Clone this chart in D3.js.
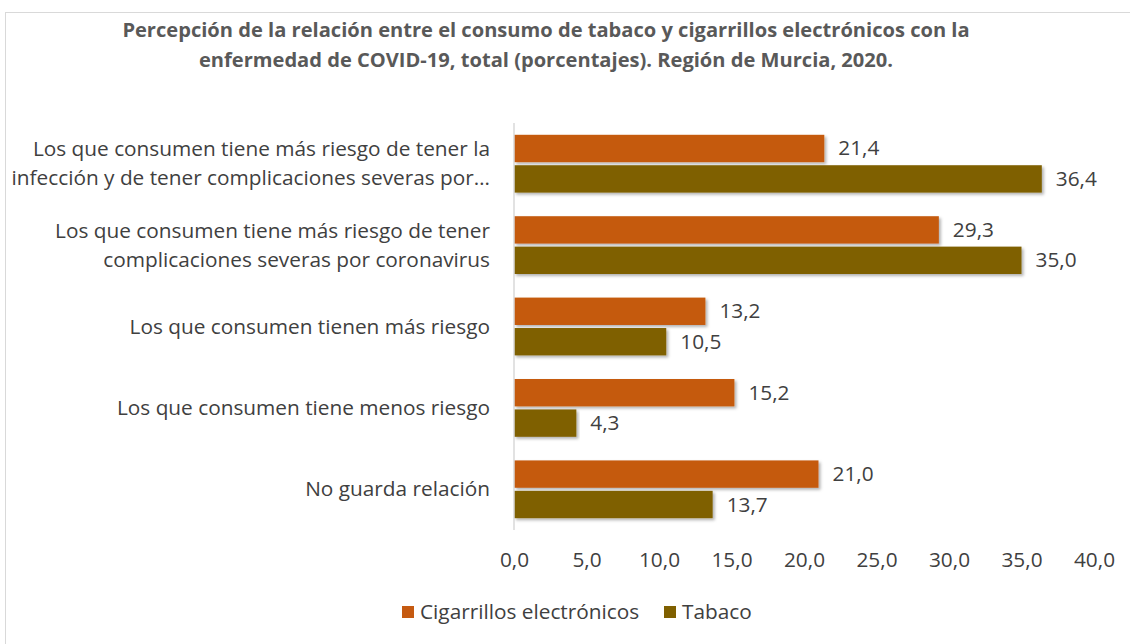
<!DOCTYPE html>
<html><head><meta charset="utf-8">
<script src="https://cdn.jsdelivr.net/npm/d3@7"></script>
<style>body{margin:0;background:#fff;} text{font-family:"Open Sans",sans-serif;}</style>
</head><body>
<svg id="c" width="1130" height="644"></svg>
<script>
const categories = [
  ["Los que consumen tiene más riesgo de tener la", "infección y de tener complicaciones severas por…"],
  ["Los que consumen tiene más riesgo de tener", "complicaciones severas por coronavirus"],
  ["Los que consumen tienen más riesgo"],
  ["Los que consumen tiene menos riesgo"],
  ["No guarda relación"]
];
const seriesNames = ["Cigarrillos electrónicos", "Tabaco"];
const cigarrillos = [21.4, 29.3, 13.2, 15.2, 21.0];
const tabaco = [36.4, 35.0, 10.5, 4.3, 13.7];
const xTicks = [0, 5, 10, 15, 20, 25, 30, 35, 40];
const colors = ["#C55A11", "#7F6000"];
const titleLines = ["Percepción de la relación entre el consumo de tabaco y cigarrillos electrónicos con la",
                    "enfermedad de COVID-19, total (porcentajes). Región de Murcia, 2020."];

const svg = d3.select("#c");
const defs = svg.append("defs");
const f = defs.append("filter").attr("id","sh").attr("x","-5%").attr("y","-20%").attr("width","110%").attr("height","160%");
f.append("feDropShadow").attr("dx",2).attr("dy",2).attr("stdDeviation",1.5).attr("flood-color","#000").attr("flood-opacity",0.3);

svg.append("rect").attr("x",5.5).attr("y",12.5).attr("width",1130).attr("height",640)
  .attr("fill","#fff").attr("stroke","#d9d9d9");

const fmt = v => v.toFixed(1).replace(".", ",");
const pLeft = 514, pRight = 1094, pTop = 123, pBottom = 530;
const FS = 20.8;
const x = d3.scaleLinear().domain([0,40]).range([pLeft,pRight]);
const y = d3.scaleBand().domain(d3.range(categories.length)).range([pTop,pBottom]).paddingInner(0.29).paddingOuter(0.145);
const sub = d3.scaleBand().domain([0,1]).range([0,y.bandwidth()]).paddingInner(0.1);

// title
svg.append("g").selectAll("text").data(titleLines).join("text")
  .attr("x",546).attr("y",(d,i)=>37+i*30).attr("text-anchor","middle")
  .attr("font-size",20.1).attr("font-weight","bold").attr("fill","#595959").text(d=>d);

const series = [cigarrillos, tabaco];
series.forEach((vals, s) => {
  const g = svg.append("g");
  g.selectAll("rect").data(vals).join("rect")
    .attr("x", x(0)).attr("y",(d,i)=>y(i)+sub(s))
    .attr("width", d=>x(d)-x(0)).attr("height", sub.bandwidth())
    .attr("fill", colors[s]).attr("filter","url(#sh)");
  g.selectAll("text").data(vals).join("text")
    .attr("x", d=>x(d)+14).attr("y",(d,i)=>y(i)+sub(s)+sub.bandwidth()/2+7)
    .attr("font-size",FS).attr("fill","#404040").text(d=>fmt(d));
});

// vertical axis line
svg.append("line").attr("x1",pLeft).attr("x2",pLeft).attr("y1",pTop).attr("y2",pBottom)
  .attr("stroke","#d9d9d9").attr("stroke-width",1.5);

// category labels
const cl = svg.append("g");
categories.forEach((lines,i) => {
  const cy = y(i)+y.bandwidth()/2;
  const n = lines.length;
  lines.forEach((t,j) => {
    cl.append("text").attr("x",490).attr("y", cy + (j-(n-1)/2)*29 + 7)
      .attr("text-anchor","end").attr("font-size",FS).attr("fill","#404040").text(t);
  });
});

// x axis
const ax = svg.append("g").attr("transform",`translate(0,${pBottom})`)
  .call(d3.axisBottom(x).tickValues(xTicks).tickFormat(fmt).tickSize(0).tickPadding(22));
ax.select(".domain").remove();
ax.selectAll("text").attr("font-size",FS).attr("fill","#404040").attr("font-family","'Open Sans',sans-serif");

// legend
const lg = svg.append("g");
const lx = [402, 664];
seriesNames.forEach((n,i)=>{
  lg.append("rect").attr("x",lx[i]).attr("y",606).attr("width",12).attr("height",12).attr("fill",colors[i]);
  lg.append("text").attr("x",lx[i]+18).attr("y",619).attr("font-size",FS).attr("fill","#404040").text(n);
});
</script>
</body></html>
